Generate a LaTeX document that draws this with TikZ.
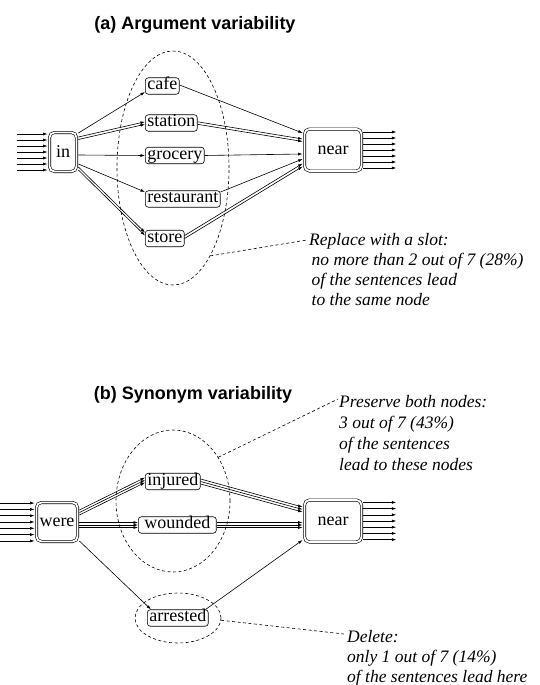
\documentclass[tikz,border=0pt]{standalone}
\usepackage{fontspec}
\setmainfont{Liberation Serif}
\newfontfamily\hsans{Liberation Sans}
\usetikzlibrary{arrows.meta,calc,shapes.geometric}
\begin{document}
\begin{tikzpicture}[x=1pt,y=-1pt,
  lbl/.style={draw, line width=0.6pt, rounded corners=3pt, inner xsep=2pt, inner ysep=1pt, text height=11pt, text depth=3.5pt, font=\fontsize{18}{20}\selectfont, anchor=west},
  big/.style={draw, line width=0.6pt, double, double distance=1.8pt, rounded corners=5pt, inner sep=0pt, font=\fontsize{18}{20}\selectfont},
  edge/.style={line width=0.6pt, -{Latex[length=4.5pt,width=3pt]}},
  grp/.style={draw, ellipse, dash pattern=on 3pt off 2.5pt, line width=0.6pt, inner sep=0pt},
  lead/.style={dash pattern=on 3pt off 2.5pt, line width=0.6pt},
  note/.style={font=\fontsize{17.5}{20}\selectfont\itshape, align=left, inner sep=0pt, anchor=north west},
  noteb/.style={note, font=\fontsize{17.5}{21}\selectfont\itshape},
  ttl/.style={font=\hsans\bfseries\fontsize{18}{20}\selectfont}
]
\useasboundingbox (0,0) rectangle (539,685);

% ---------- (a) ----------
\node[ttl] (ttlA) at (195,25) {(a) Argument variability};
\node[big, minimum width=27pt, minimum height=39pt] (in) at (63,152) {in};
\node[big, minimum width=57pt, minimum height=42pt] (nearA) at (333,150) {near};
\node[lbl] (cafe) at (145,86) {cafe};
\node[lbl] (station) at (145,123) {station};
\node[lbl] (grocery) at (145,155.5) {grocery};
\node[lbl] (restaurant) at (145,199) {restaurant};
\node[lbl] (store) at (145,238.5) {store};

\foreach \k in {-3,...,3}
  \draw[edge] ($(in.west)+(-32.5,\k*6)$) -- ($(in.west)+(-1.6,\k*6)$);
\foreach \k in {-3,...,3}
  \draw[edge] ($(nearA.east)+(1.6,\k*6)$) -- ($(nearA.east)+(34.5,\k*6)$);

\draw[edge] ($(in.east)+(1.6,-19)$) -- ($(cafe.west)+(0,6)$);
\draw[edge] ($(in.east)+(1.6,-15)$) -- ($(station.west)+(0,-1.2)$);
\draw[edge] ($(in.east)+(1.6,-12.5)$) -- ($(station.west)+(0,1.3)$);
\draw[edge] ($(in.east)+(1.6,3)$) -- (grocery.west);
\draw[edge] ($(in.east)+(1.6,12)$) -- ($(restaurant.west)+(0,-7)$);
\draw[edge] ($(in.east)+(1.6,15)$) -- ($(store.west)+(0,-6)$);
\draw[edge] ($(in.east)+(1.6,18)$) -- ($(store.west)+(0,-3)$);

\draw[edge] ($(cafe.east)+(0,-1)$) -- ($(nearA.west)+(-1.6,-17)$);
\draw[edge] ($(station.east)+(0,-1.2)$) -- ($(nearA.west)+(-1.6,-11)$);
\draw[edge] ($(station.east)+(0,1.3)$) -- ($(nearA.west)+(-1.6,-8.5)$);
\draw[edge] (grocery.east) -- ($(nearA.west)+(-1.6,4)$);
\draw[edge] ($(restaurant.east)+(0,-7)$) -- ($(nearA.west)+(-1.6,9)$);
\draw[edge] ($(store.east)+(0,-3)$) -- ($(nearA.west)+(-1.6,13.5)$);
\draw[edge] (store.east) -- ($(nearA.west)+(-1.6,16.5)$);

\node[grp, minimum width=112pt, minimum height=234pt] (grpA) at (173,168) {};
\node[note] (noteA) at (309,233) {Replace with a slot:\\\hspace*{2.5pt}no more than 2 out of 7 (28\%)\\\hspace*{2.5pt}of the sentences lead\\\hspace*{2.5pt}to the same node};
\draw[lead] (grpA.-67) -- ($(noteA.north west)+(-2,7)$);

% ---------- (b) ----------
\node[ttl] (ttlB) at (193,395) {(b) Synonym variability};
\node[big, minimum width=41pt, minimum height=39pt] (were) at (57,522) {were};
\node[big, minimum width=57pt, minimum height=42pt] (nearB) at (333,521) {near};
\node[lbl] (injured) at (145,481.5) {injured};
\node[lbl, inner xsep=6pt] (wounded) at (138,525) {wounded};
\node[lbl] (arrested) at (147,618) {arrested};

\foreach \k in {-3,...,3}
  \draw[edge] ($(were.west)+(-37,\k*6.3)$) -- ($(were.west)+(-1.6,\k*6.3)$);
\foreach \k in {-3,...,3}
  \draw[edge] ($(nearB.east)+(1.6,\k*6.2)$) -- ($(nearB.east)+(34.5,\k*6.2)$);

\draw[edge] ($(were.east)+(1.6,-12)$) -- ($(injured.west)+(0,-4)$);
\draw[edge] ($(were.east)+(1.6,-9.5)$) -- ($(injured.west)+(0,-1.5)$);
\draw[edge] ($(were.east)+(1.6,-7)$) -- ($(injured.west)+(0,1)$);
\draw[edge] ($(were.east)+(1.6,0.5)$) -- ($(wounded.west)+(0,-2.5)$);
\draw[edge] ($(were.east)+(1.6,3)$) -- (wounded.west);
\draw[edge] ($(were.east)+(1.6,5.5)$) -- ($(wounded.west)+(0,2.5)$);
\draw[edge] ($(were.east)+(1.6,19)$) -- ($(arrested.north west)+(4,0)$);

\draw[edge] ($(injured.east)+(0,-2.5)$) -- ($(nearB.west)+(-1.6,-14)$);
\draw[edge] (injured.east) -- ($(nearB.west)+(-1.6,-11.5)$);
\draw[edge] ($(injured.east)+(0,2.5)$) -- ($(nearB.west)+(-1.6,-9)$);
\draw[edge] ($(wounded.east)+(0,-2.5)$) -- ($(nearB.west)+(-1.6,1.5)$);
\draw[edge] (wounded.east) -- ($(nearB.west)+(-1.6,4)$);
\draw[edge] ($(wounded.east)+(0,2.5)$) -- ($(nearB.west)+(-1.6,6.5)$);
\draw[edge] ($(arrested.north east)+(-3,0)$) -- ($(nearB.west)+(-1.6,19)$);

\node[grp, minimum width=114pt, minimum height=142pt] (grpB) at (173,501) {};
\node[grp, minimum width=86pt, minimum height=50pt] (grpC) at (178,618) {};

\node[noteb] (noteB) at (339,395) {Preserve both nodes:\\3 out of 7 (43\%)\\of the sentences\\lead to these nodes};
\draw[lead] (grpB.44) -- ($(noteB.north west)+(-1,4)$);
\node[note] (noteC) at (347,630) {Delete:\\only 1 out of 7 (14\%)\\of the sentences lead here};
\draw[lead] (grpC.-3) -- ($(noteC.north west)+(-3,4)$);
\end{tikzpicture}
\end{document}
